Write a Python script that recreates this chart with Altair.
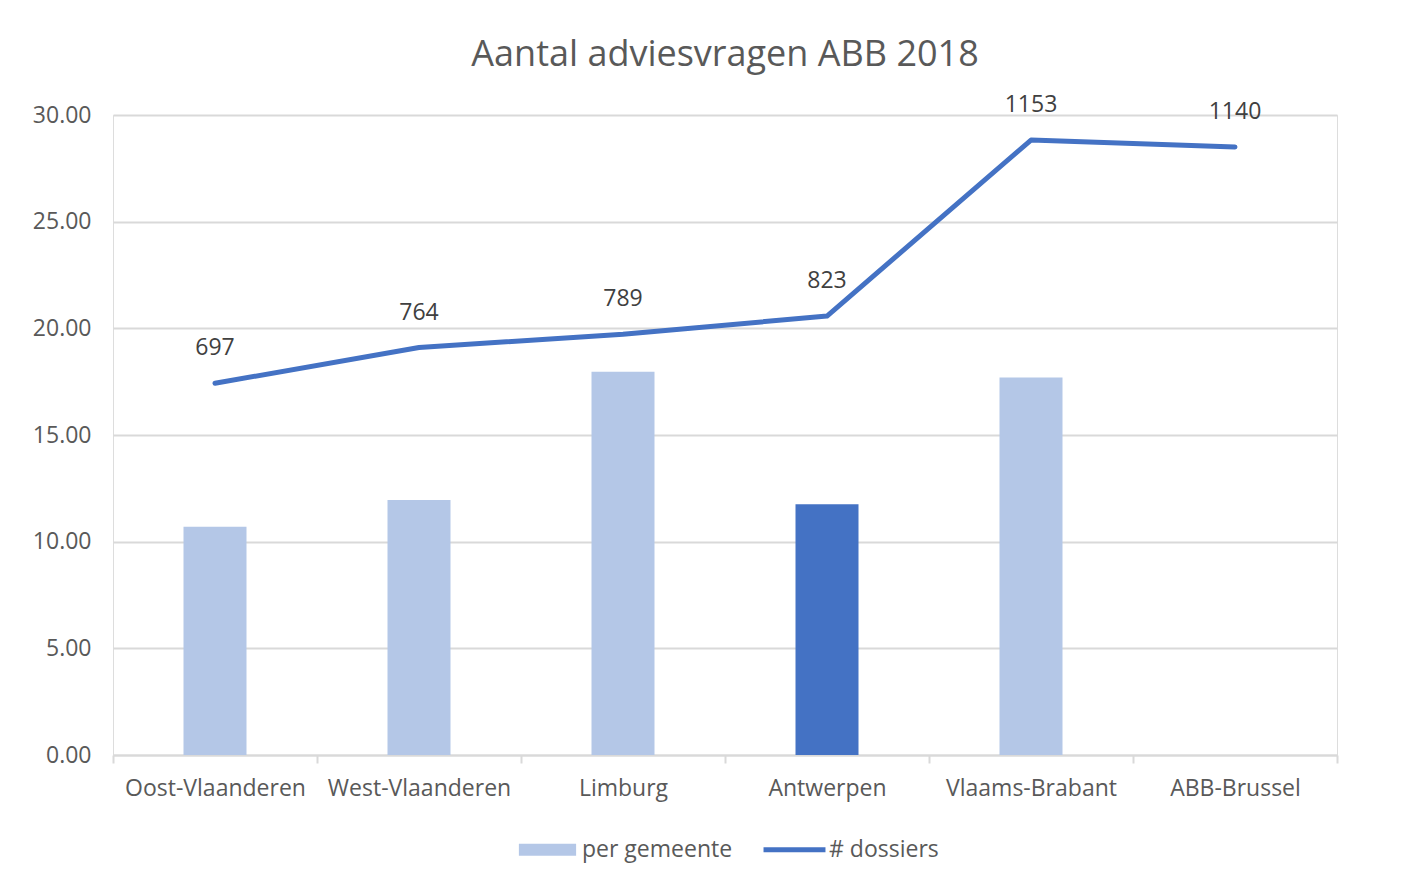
import altair as alt
import pandas as pd

regios = ["Oost-Vlaanderen", "West-Vlaanderen", "Limburg", "Antwerpen", "Vlaams-Brabant", "ABB-Brussel"]
per_gemeente = [10.70, 11.95, 17.97, 11.75, 17.70, None]
dossiers = [697, 764, 789, 823, 1153, 1140]
highlight = "Antwerpen"
series_names = ["per gemeente", "# dossiers"]
left_ticks = [0, 5, 10, 15, 20, 25, 30]
right_ticks = [0, 200, 400, 600, 800, 1000, 1200]

df = pd.DataFrame({
    "regio": regios,
    "per_gemeente": per_gemeente,
    "dossiers": dossiers,
    "reeks": "per gemeente",
})

FONT = "Open Sans"
GRAY = "#595959"
GRID = "#d9d9d9"
LIGHT = "#B4C7E7"
DARK = "#4472C4"
FS = 23

x = alt.X(
    "regio:N", sort=regios,
    scale=alt.Scale(paddingInner=0, paddingOuter=0),
    axis=alt.Axis(title=None, labelAngle=0, tickBand="extent", domainColor=GRID, domainWidth=2,
                  tickColor=GRID, tickWidth=2, tickSize=8, labelPadding=14, labelFontSize=FS,
                  labelColor=GRAY, labelFont=FONT, grid=False, labelLimit=400),
)

bars = alt.Chart(df).mark_bar(size=63).encode(
    x=x,
    y=alt.Y("per_gemeente:Q", scale=alt.Scale(domain=[0, 30]),
            axis=alt.Axis(title=None, values=left_ticks, format=".2f", domain=False, ticks=False,
                          labelPadding=22, labelFontSize=FS, labelColor=GRAY, labelFont=FONT,
                          gridColor=GRID, gridWidth=2)),
    color=alt.condition(alt.datum.regio == highlight, alt.value(DARK), alt.value(LIGHT)),
)

yr = alt.Y("dossiers:Q", scale=alt.Scale(domain=[0, 1200]),
           axis=alt.Axis(title=None, orient="right", values=right_ticks, domain=False, ticks=False,
                         grid=False, labelPadding=23, labelFontSize=FS, labelColor=GRAY,
                         labelFont=FONT))

line = alt.Chart(df).mark_line(color=DARK, strokeWidth=5, strokeCap="round", strokeJoin="round").encode(
    x=x, y=yr
)

labels = alt.Chart(df).mark_text(dy=-35, fontSize=FS, font=FONT, color="#404040").encode(
    x=x, y=alt.Y("dossiers:Q", axis=None), text=alt.Text("dossiers:Q")
)

bar_path = "M-0.97,-0.2H0.97V0.2H-0.97Z"
line_path = "M-1.05,-0.085H1.05V0.085H-1.05Z"

legend_props = dict(title=None, orient="none", legendX=405, legendY=705,
                    direction="horizontal", columns=2, symbolSize=3481,
                    symbolStrokeWidth=0, labelFontSize=FS, labelFont=FONT,
                    labelColor=GRAY, labelOffset=5, columnPadding=30)

legend_pts = alt.Chart(df).mark_point(filled=True, opacity=1).encode(
    x=x,
    y=alt.Y("dossiers:Q", axis=None),
    color=alt.Color("reeks:N", scale=alt.Scale(domain=series_names, range=[LIGHT, DARK]),
                    legend=alt.Legend(**legend_props)),
    shape=alt.Shape("reeks:N", scale=alt.Scale(domain=series_names, range=[bar_path, line_path]),
                    legend=alt.Legend(**legend_props)),
).transform_filter("false")

right = alt.layer(line, labels, legend_pts)

chart = alt.layer(bars, right).resolve_scale(y="independent").properties(
    width=1224, height=640,
    title=alt.TitleParams("Aantal adviesvragen ABB 2018", fontSize=36, font=FONT, color=GRAY,
                          fontWeight="normal", anchor="middle", baseline="alphabetic", offset=-8),
    autosize=alt.AutoSizeParams(type="none"),
    padding={"left": 105, "top": 107, "right": 80, "bottom": 110},
).configure_view(strokeOpacity=0, strokeWidth=0).configure(background="white")

chart.save("out.html", embed_options={"renderer": "svg", "actions": False})
